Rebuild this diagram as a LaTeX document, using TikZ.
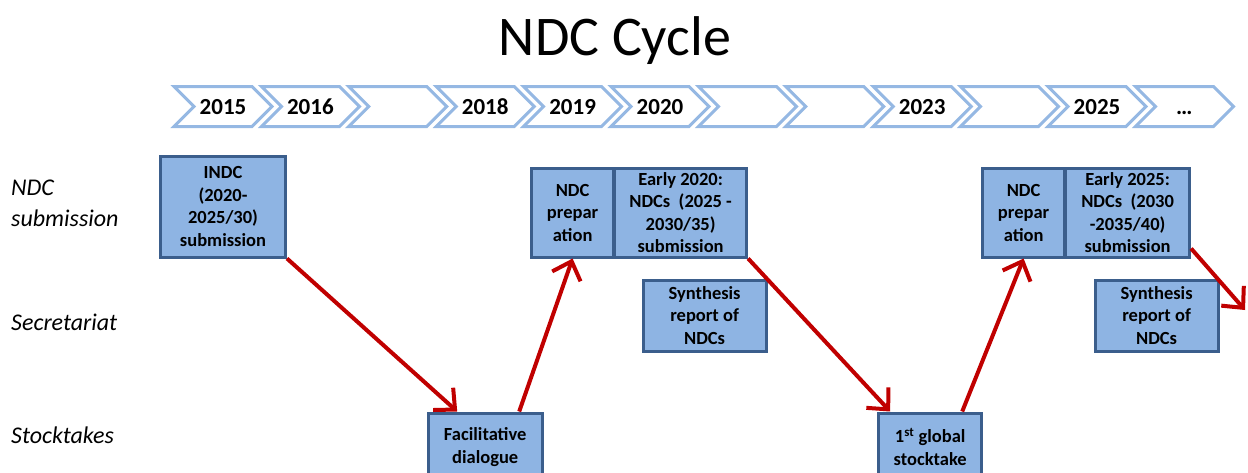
\documentclass[tikz,border=0pt]{standalone}
\usepackage{fontspec}
\setmainfont{Carlito}
\usetikzlibrary{positioning,shapes.symbols,arrows.meta}
\definecolor{boxfill}{HTML}{8EB4E3}
\definecolor{boxline}{HTML}{3B5E8C}
\definecolor{chevline}{HTML}{95B8E3}
\definecolor{arrowred}{HTML}{C00000}

\begin{document}
\begin{tikzpicture}[x=1pt,y=-1pt,node distance=87.4pt,on grid]
      \tikzset{year/.style={signal,signal to=east,signal from=west,signal pointer angle=90,draw=chevline,line width=3pt,fill=white,minimum width=98pt,minimum height=40pt,inner sep=0pt,text height=15pt,text depth=0pt,font=\fontsize{23}{27}\selectfont\bfseries}}
      \tikzset{box/.style={draw=boxline,line width=3pt,fill=boxfill,align=center,inner sep=2pt,font=\fontsize{18.5}{22.5}\selectfont\bfseries}}
      \tikzset{row/.style={anchor=base west,inner sep=0pt,align=left,font=\fontsize{24}{31}\selectfont\itshape}}
      \tikzset{flow/.style={-{Straight Barb[length=16pt,width=30pt]},draw=arrowred,line width=4pt}}

      \useasboundingbox (0,0) rectangle (1248,472);
      \clip (0,0) rectangle (1248,472);

      \node (title) at (615,55) [anchor=base,font=\fontsize{56}{60}\selectfont] {NDC Cycle};

      % time line
      \node[year] (y2015) at (223,106.5) {2015};
      \node[year] (y2016) [right = of y2015] {2016};
      \node[year] (y2017) [right = of y2016] {};
      \node[year] (y2018) [right = of y2017] {2018};
      \node[year] (y2019) [right = of y2018] {2019};
      \node[year] (y2020) [right = of y2019] {2020};
      \node[year] (y2021) [right = of y2020] {};
      \node[year] (y2022) [right = of y2021] {};
      \node[year] (y2023) [right = of y2022] {2023};
      \node[year] (y2024) [right = of y2023] {};
      \node[year] (y2025) [right = of y2024] {2025};
      \node[year] (ymore) [right = of y2025] {\dots};

      % rows
      \node[row] (rowndc) at (11,226) {NDC\\submission};
      \node[row] (rowsec) at (11,330) {Secretariat};
      \node[row] (rowstock) at (11,443) {Stocktakes};

      % boxes
      \node[box,minimum width=125pt,minimum height=101pt] (indc) [below = 100pt of y2015] {INDC\\(2020-\\2025/30)\\submission};
      \node[box,minimum width=114pt,minimum height=68pt] (facil) [below = 340.5pt of y2018] {Facilitative\\dialogue};
      \node[box,minimum width=82pt,minimum height=89pt] (prep1) [below = 106pt of y2019] {NDC\\prepar\\ation};
      \node[box,minimum width=132pt,minimum height=89pt] (sub1) [right = 108pt of prep1] {Early 2020:\\NDCs\ \ (2025 -\\2030/35)\\submission};
      \node[box,minimum width=123pt,minimum height=71pt] (synth1) [below right = 103pt and 24pt of sub1] {Synthesis\\report of\\NDCs};
      \node[box,minimum width=103pt,minimum height=68pt] (global1) [below right = 340.5pt and 8pt of y2023] {1\textsuperscript{st} global\\stocktake};
      \node[box,minimum width=82pt,minimum height=89pt] (prep2) [right = 451pt of prep1] {NDC\\prepar\\ation};
      \node[box,minimum width=124pt,minimum height=89pt] (sub2) [right = 104pt of prep2] {Early 2025:\\NDCs\ \ (2030\\-2035/40)\\submission};
      \node[box,minimum width=123pt,minimum height=71pt] (synth2) [right = 452pt of synth1] {Synthesis\\report of\\NDCs};

      % flow of the cycle
      \coordinate (next) at (1245,310);
      \draw[flow] (indc.south east) -- ([xshift=-28pt]facil.north);
      \draw[flow] ([xshift=34pt]facil.north) -- (prep1.south);
      \draw[flow] (sub1.south east) -- ([xshift=-40pt]global1.north);
      \draw[flow] ([xshift=32pt]global1.north) -- (prep2.south);
      \draw[flow] ([yshift=10pt]sub2.south east) -- (next);
\end{tikzpicture}
\end{document}
